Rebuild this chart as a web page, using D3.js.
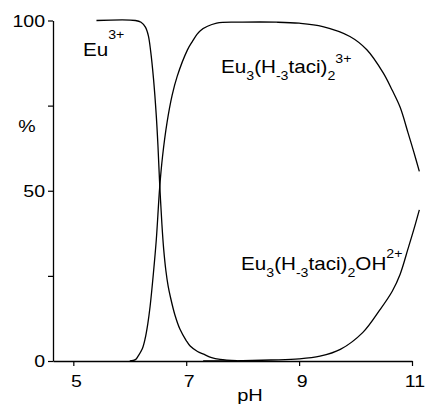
<!DOCTYPE html>
<html>
<head>
<meta charset="utf-8">
<script src="https://cdn.jsdelivr.net/npm/d3@7"></script>
<style>
  html, body { margin: 0; padding: 0; background: #fff; }
  svg { display: block; }
  text { font-family: "Liberation Sans", Arial, Helvetica, sans-serif; fill: #000; }
</style>
</head>
<body>
<svg id="chart" width="425" height="408"></svg>
<script>
// ---- data ----
const pH_Eu  = [5.41, 6.10, 6.20, 6.28, 6.33, 6.37, 6.42, 6.47, 6.50, 6.53, 6.57, 6.60, 6.64, 6.68, 6.72, 6.80, 6.89, 7.00, 7.07, 7.20, 7.31, 7.45, 7.60, 7.90];
const pct_Eu = [100, 100, 99.5, 98, 95.5, 91, 83, 72, 63, 52, 40, 33, 26.5, 22, 18.8, 13.5, 9.3, 6, 4.4, 2.8, 2, 1, 0.5, 0.1];

const pH_T  = [6.00, 6.10, 6.15, 6.22, 6.27, 6.32, 6.36, 6.42, 6.47, 6.53, 6.58, 6.66, 6.75, 6.84, 7.02, 7.10, 7.25, 7.54, 8.0, 8.6, 9.0, 9.42, 9.90, 10.20, 10.49, 10.65, 10.79, 10.93, 11.03, 11.13];
const pct_T = [0, 0.4, 1.5, 3.5, 6.4, 11, 16, 26, 35.6, 51, 60, 70, 78, 83.6, 91.3, 93.6, 97, 99.2, 99.5, 99.5, 99.2, 98.2, 95.3, 91.4, 84.6, 79.5, 74.5, 67, 61.5, 55.7];

const pH_OH  = [7.30, 8.0, 8.5, 9.0, 9.37, 9.73, 10.13, 10.43, 10.65, 10.79, 10.93, 11.03, 11.13];
const pct_OH = [0, 0.1, 0.3, 0.6, 1.4, 3.4, 8.4, 15, 20.5, 25.5, 33, 38.5, 44.4];

const xTicks = [5, 7, 9, 11];
const yTicks = [0, 25, 50, 75, 100];
const yTickLabels = [0, 50, 100];

// ---- layout ----
const svg = d3.select("#chart");
const x = d3.scaleLinear().domain([4.64, 11]).range([53, 412]);
const y = d3.scaleLinear().domain([0, 100]).range([361, 20.5]);

// axes
const gx = svg.append("g").attr("transform", `translate(0,${y(0)})`)
  .call(d3.axisBottom(x).tickValues(xTicks).tickSize(5).tickSizeOuter(0).tickFormat(""));
const gy = svg.append("g").attr("transform", `translate(${x.range()[0]},0)`)
  .call(d3.axisLeft(y).tickValues(yTicks).tickSize(5).tickSizeOuter(0).tickFormat(""));
[gx, gy].forEach(g => {
  g.selectAll("path.domain").attr("stroke", "#000").attr("stroke-width", 1.3);
  g.selectAll(".tick line").attr("stroke", "#000").attr("stroke-width", 1.2);
});

function stretchedText(px, py, str, size, anchor, sx) {
  const g = svg.append("g").attr("transform", `translate(${px},${py}) scale(${sx},1)`);
  return g.append("text").attr("x", 0).attr("y", 0)
    .attr("font-size", size).attr("text-anchor", anchor).text(str);
}

// tick labels
xTicks.forEach(v => stretchedText(x(v) + 3, 387, String(v), 17, "middle", 1.15));
yTickLabels.forEach(v => stretchedText(45, y(v) + 6, String(v), 17, "end", 1.15));

// axis titles
stretchedText(250, 401, "pH", 17, "middle", 1.18);
stretchedText(27, 131.5, "%", 17, "middle", 1.15);

// curves
const line = d3.line().x(d => x(d[0])).y(d => y(d[1])).curve(d3.curveCatmullRom.alpha(0.5));
const series = [
  d3.zip(pH_Eu, pct_Eu),
  d3.zip(pH_T, pct_T),
  d3.zip(pH_OH, pct_OH)
];
svg.append("g").selectAll("path").data(series).join("path")
  .attr("d", line).attr("fill", "none").attr("stroke", "#000").attr("stroke-width", 1.3);

// species labels
function species(px, py, parts, supShift) {
  const g = svg.append("g").attr("transform", `translate(${px},${py}) scale(1.18,1)`);
  const t = g.append("text").attr("x", 0).attr("y", 0).attr("font-size", 17.5);
  let cur = 0;
  parts.forEach(([s, kind]) => {
    let target = 0, size = 17.5;
    if (kind === "sub") { target = 7; size = 12; }
    if (kind === "sup") { target = supShift; size = 12; }
    t.append("tspan").attr("dy", target - cur).attr("font-size", size).text(s);
    cur = target;
  });
}
species(83, 56, [["Eu", "n"], ["3+", "sup"]], -17);
species(221, 72.7, [["Eu", "n"], ["3", "sub"], ["(H", "n"], ["-3", "sub"], ["taci)", "n"], ["2", "sub"], ["3+", "sup"]], -10);
species(241, 270, [["Eu", "n"], ["3", "sub"], ["(H", "n"], ["-3", "sub"], ["taci)", "n"], ["2", "sub"], ["OH", "n"], ["2+", "sup"]], -12);
</script>
</body>
</html>
